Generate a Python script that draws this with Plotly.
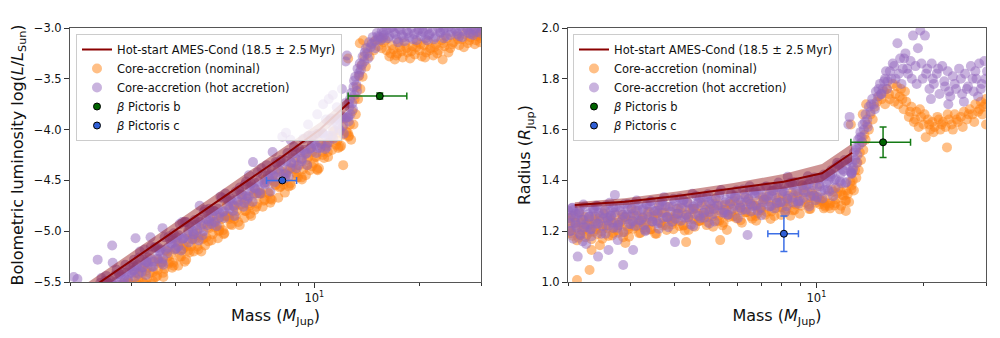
import math
import plotly.graph_objects as go

# ---------------- Hot-start AMES-Cond track (18.5 +/- 2.5 Myr) ----------------
hs_mass = [2.09, 2.89, 4.05, 5.85, 8.08, 10.37, 12.6]
hs_logL = [-5.66, -5.33, -4.98, -4.60, -4.27, -4.00, -3.73]
hs_logL_lo = [-5.74, -5.41, -5.06, -4.68, -4.35, -4.07, -3.79]
hs_logL_hi = [-5.58, -5.25, -4.90, -4.52, -4.19, -3.93, -3.67]
hs_radius = [1.303, 1.316, 1.339, 1.369, 1.395, 1.428, 1.509]
hs_radius_lo = [1.292, 1.303, 1.323, 1.349, 1.367, 1.395, 1.475]
hs_radius_hi = [1.314, 1.330, 1.356, 1.390, 1.425, 1.465, 1.545]

# ---------------- Core-accretion, hot accretion ----------------
hot_band_mass = [
    2.00, 2.03, 2.06, 2.09, 2.12, 2.15, 2.18, 2.21, 2.24, 2.28,
    2.31, 2.35, 2.38, 2.42, 2.46, 2.50, 2.54, 2.58, 2.62, 2.66,
    2.70, 2.75, 2.79, 2.84, 2.88, 2.93, 2.97, 3.02, 3.07, 3.12,
    3.17, 3.22, 3.27, 3.32, 3.38, 3.43, 3.49, 3.55, 3.61, 3.67,
    3.73, 3.79, 3.86, 3.92, 3.99, 4.05, 4.12, 4.19, 4.26, 4.33,
    4.40, 4.48, 4.55, 4.63, 4.71, 4.79, 4.87, 4.95, 5.04, 5.12,
    5.21, 5.30, 5.39, 5.48, 5.57, 5.67, 5.76, 5.86, 5.96, 6.06,
    6.17, 6.27, 6.38, 6.49, 6.60, 6.71, 6.83, 6.94, 7.06, 7.18,
    7.31, 7.43, 7.56, 7.69, 7.82, 7.96, 8.10, 8.24, 8.38, 8.53,
    8.68, 8.83, 8.98, 9.14, 9.30, 9.46, 9.62, 9.79, 9.96, 10.13,
    10.31, 10.49, 10.67, 10.86, 11.05, 11.24, 11.44, 11.64, 11.84, 12.05,
    12.26, 12.47]
hot_band_logL = [
    -5.69, -5.81, -5.73, -5.86, -5.68, -5.78, -5.71, -5.83, -5.59, -5.74,
    -5.61, -5.65, -5.72, -5.59, -5.46, -5.62, -5.44, -5.56, -5.49, -5.61,
    -5.43, -5.53, -5.45, -5.57, -5.33, -5.48, -5.35, -5.39, -5.45, -5.33,
    -5.20, -5.36, -5.18, -5.30, -5.23, -5.35, -5.16, -5.27, -5.19, -5.31,
    -5.06, -5.22, -5.08, -5.12, -5.18, -5.06, -4.93, -5.08, -4.91, -5.03,
    -4.95, -5.08, -4.89, -4.99, -4.91, -5.04, -4.79, -4.94, -4.80, -4.85,
    -4.91, -4.78, -4.66, -4.81, -4.63, -4.75, -4.68, -4.80, -4.61, -4.71,
    -4.64, -4.76, -4.51, -4.66, -4.53, -4.57, -4.63, -4.51, -4.38, -4.53,
    -4.35, -4.48, -4.40, -4.52, -4.33, -4.43, -4.36, -4.48, -4.23, -4.38,
    -4.24, -4.28, -4.35, -4.22, -4.09, -4.24, -4.06, -4.18, -4.10, -4.23,
    -4.04, -4.14, -4.05, -4.17, -3.91, -4.06, -3.91, -3.95, -4.01, -3.87,
    -3.74, -3.88]
hot_band_radius = [
    1.281, 1.232, 1.292, 1.253, 1.214, 1.274, 1.245, 1.305, 1.226, 1.267,
    1.207, 1.288, 1.238, 1.299, 1.260, 1.220, 1.281, 1.252, 1.312, 1.233,
    1.273, 1.214, 1.295, 1.245, 1.306, 1.267, 1.228, 1.289, 1.260, 1.321,
    1.242, 1.283, 1.224, 1.305, 1.257, 1.318, 1.279, 1.240, 1.301, 1.272,
    1.334, 1.255, 1.296, 1.237, 1.318, 1.269, 1.330, 1.292, 1.253, 1.314,
    1.286, 1.347, 1.268, 1.310, 1.251, 1.333, 1.284, 1.345, 1.307, 1.268,
    1.329, 1.301, 1.362, 1.283, 1.325, 1.266, 1.347, 1.299, 1.360, 1.322,
    1.283, 1.344, 1.316, 1.377, 1.299, 1.340, 1.281, 1.362, 1.314, 1.375,
    1.337, 1.298, 1.359, 1.331, 1.392, 1.314, 1.355, 1.298, 1.380, 1.332,
    1.394, 1.357, 1.319, 1.381, 1.353, 1.416, 1.338, 1.380, 1.322, 1.405,
    1.357, 1.423, 1.390, 1.357, 1.424, 1.401, 1.469, 1.396, 1.443, 1.390,
    1.477, 1.435]

hot_band2_mass = [
    2.01, 2.04, 2.07, 2.10, 2.14, 2.17, 2.20, 2.23, 2.26, 2.30,
    2.33, 2.37, 2.40, 2.44, 2.48, 2.52, 2.56, 2.60, 2.64, 2.68,
    2.72, 2.77, 2.81, 2.86, 2.90, 2.95, 3.00, 3.05, 3.10, 3.15,
    3.20, 3.25, 3.30, 3.35, 3.41, 3.46, 3.52, 3.58, 3.64, 3.70,
    3.76, 3.83, 3.89, 3.96, 4.02, 4.09, 4.16, 4.23, 4.30, 4.37,
    4.44, 4.52, 4.59, 4.67, 4.75, 4.83, 4.91, 5.00, 5.08, 5.17,
    5.26, 5.35, 5.44, 5.53, 5.62, 5.72, 5.81, 5.91, 6.01, 6.12,
    6.22, 6.33, 6.44, 6.55, 6.66, 6.77, 6.88, 7.00, 7.12, 7.24,
    7.37, 7.49, 7.62, 7.75, 7.89, 8.03, 8.17, 8.31, 8.45, 8.60,
    8.75, 8.90, 9.06, 9.22, 9.38, 9.54, 9.71, 9.87, 10.04, 10.22,
    10.40, 10.58, 10.76, 10.95, 11.14, 11.34, 11.54, 11.74, 11.94, 12.15,
    12.36, 12.56]
hot_band2_logL = [
    -5.80, -5.71, -5.85, -5.73, -5.88, -5.75, -5.60, -5.80, -5.62, -5.72,
    -5.64, -5.79, -5.64, -5.51, -5.58, -5.49, -5.63, -5.51, -5.66, -5.53,
    -5.38, -5.58, -5.40, -5.50, -5.41, -5.57, -5.41, -5.28, -5.35, -5.26,
    -5.40, -5.28, -5.43, -5.31, -5.15, -5.35, -5.16, -5.27, -5.18, -5.33,
    -5.18, -5.05, -5.12, -5.02, -5.17, -5.04, -5.19, -5.07, -4.91, -5.11,
    -4.93, -5.03, -4.94, -5.09, -4.94, -4.81, -4.88, -4.78, -4.93, -4.80,
    -4.95, -4.82, -4.67, -4.87, -4.68, -4.78, -4.70, -4.85, -4.69, -4.57,
    -4.64, -4.54, -4.68, -4.56, -4.71, -4.58, -4.42, -4.63, -4.44, -4.54,
    -4.45, -4.61, -4.45, -4.32, -4.39, -4.30, -4.44, -4.31, -4.46, -4.33,
    -4.17, -4.38, -4.19, -4.29, -4.20, -4.35, -4.19, -4.06, -4.14, -4.04,
    -4.18, -4.04, -4.19, -4.06, -3.89, -4.09, -3.89, -3.99, -3.89, -4.04,
    -3.88, -3.74]
hot_band2_radius = [
    1.252, 1.202, 1.283, 1.223, 1.269, 1.184, 1.245, 1.296, 1.216, 1.257,
    1.208, 1.288, 1.229, 1.274, 1.190, 1.251, 1.301, 1.222, 1.262, 1.213,
    1.294, 1.234, 1.280, 1.196, 1.256, 1.307, 1.228, 1.270, 1.221, 1.302,
    1.243, 1.289, 1.205, 1.266, 1.317, 1.238, 1.280, 1.231, 1.312, 1.253,
    1.299, 1.216, 1.277, 1.328, 1.249, 1.290, 1.241, 1.323, 1.264, 1.310,
    1.226, 1.288, 1.339, 1.260, 1.302, 1.253, 1.334, 1.276, 1.322, 1.238,
    1.300, 1.351, 1.273, 1.314, 1.265, 1.347, 1.288, 1.335, 1.251, 1.313,
    1.364, 1.285, 1.327, 1.278, 1.359, 1.301, 1.347, 1.263, 1.325, 1.376,
    1.297, 1.339, 1.290, 1.372, 1.313, 1.360, 1.276, 1.339, 1.391, 1.313,
    1.355, 1.308, 1.390, 1.332, 1.380, 1.297, 1.359, 1.411, 1.334, 1.376,
    1.329, 1.416, 1.363, 1.415, 1.338, 1.405, 1.462, 1.389, 1.437, 1.394,
    1.481, 1.428]

hot_band3_mass = [
    2.04, 2.10, 2.16, 2.22, 2.29, 2.36, 2.43, 2.51, 2.59, 2.68,
    2.77, 2.86, 2.95, 3.04, 3.14, 3.24, 3.34, 3.45, 3.57, 3.69,
    3.81, 3.94, 4.08, 4.22, 4.36, 4.51, 4.66, 4.82, 4.98, 5.15,
    5.33, 5.51, 5.71, 5.90, 6.10, 6.31, 6.53, 6.75, 6.98, 7.22,
    7.48, 7.74, 8.01, 8.29, 8.58, 8.88, 9.20, 9.52, 9.85, 10.19,
    10.55, 10.93, 11.31, 11.71, 12.12, 12.54]
hot_band3_logL = [
    -5.77, -5.81, -5.67, -5.79, -5.68, -5.60, -5.68, -5.61, -5.52, -5.56,
    -5.42, -5.53, -5.42, -5.34, -5.42, -5.35, -5.26, -5.30, -5.16, -5.27,
    -5.16, -5.07, -5.15, -5.07, -4.99, -5.03, -4.88, -5.00, -4.88, -4.80,
    -4.87, -4.80, -4.71, -4.75, -4.60, -4.72, -4.60, -4.52, -4.60, -4.52,
    -4.44, -4.47, -4.32, -4.44, -4.32, -4.23, -4.31, -4.23, -4.14, -4.18,
    -4.03, -4.13, -4.00, -3.90, -3.96, -3.87]
hot_band3_radius = [
    1.262, 1.233, 1.284, 1.215, 1.257, 1.278, 1.229, 1.270, 1.242, 1.293,
    1.224, 1.265, 1.287, 1.239, 1.281, 1.253, 1.305, 1.238, 1.280, 1.302,
    1.255, 1.297, 1.269, 1.322, 1.254, 1.297, 1.320, 1.273, 1.315, 1.288,
    1.341, 1.273, 1.316, 1.339, 1.292, 1.334, 1.307, 1.360, 1.292, 1.335,
    1.358, 1.311, 1.354, 1.328, 1.382, 1.317, 1.361, 1.386, 1.340, 1.385,
    1.363, 1.427, 1.371, 1.426, 1.460, 1.425]

# bright models lying above the main sequence
hot_bright_mass = [2.05, 2.10, 2.40, 2.64, 2.65, 3.08, 3.40, 3.68, 4.19, 4.70,
                   6.50, 6.68, 7.60, 8.10, 8.30, 8.55, 9.60, 10.2, 10.6, 11.0,
                   11.3, 10.8, 11.6, 12.0, 2.71]
hot_bright_logL = [-5.45, -5.47, -5.28, -5.14, -5.31, -5.07, -5.06, -4.97, -4.91, -4.75,
                   -4.45, -4.32, -4.22, -4.07, -4.03, -4.10, -3.95, -3.85, -3.75, -3.70,
                   -3.66, -3.90, -3.78, -3.60, -5.50]
hot_bright_radius = [1.29, 1.27, 1.30, 1.28, 1.26, 1.31, 1.30, 1.32, 1.31, 1.33,
                     1.36, 1.35, 1.37, 1.38, 1.414, 1.39, 1.40, 1.41, 1.42, 1.44,
                     1.45, 1.40, 1.46, 1.48, 1.343]

# compact models below the main sequence
hot_small_mass = [2.02, 2.07, 2.13, 2.16, 2.20, 2.25, 2.33, 2.43, 2.55, 2.60,
                  2.76, 2.86, 3.05, 3.30, 3.60, 4.00, 4.50, 5.00, 6.40]
hot_small_logL = [-5.75, -5.70, -5.72, -5.65, -5.66, -5.60, -5.62, -5.58, -5.50, -5.52,
                  -5.42, -5.45, -5.38, -5.30, -5.20, -5.10, -5.00, -4.90, -4.65]
hot_small_radius = [1.20, 1.17, 1.10, 1.19, 1.16, 1.15, 1.18, 1.10, 1.19, 1.126,
                    1.165, 1.067, 1.126, 1.20, 1.21, 1.157, 1.22, 1.23, 1.185]

# deuterium-burning transition
hot_rise_mass = [12.55, 12.60, 12.70, 12.75, 12.85, 12.95, 13.05, 13.10, 13.20, 13.30,
                 13.40, 13.50, 13.60, 13.75, 13.90, 14.05, 14.20, 14.35, 14.50, 14.70,
                 14.90, 15.10, 15.35, 15.60, 15.85, 12.40, 12.30,
                 12.65, 12.90, 13.00, 13.25, 13.45, 13.70, 13.95, 14.25, 14.60, 14.95,
                 15.25, 15.70]
hot_rise_logL = [-3.92, -3.78, -3.85, -3.64, -3.74, -3.58, -3.66, -3.48, -3.56, -3.40,
                 -3.47, -3.35, -3.41, -3.28, -3.33, -3.20, -3.25, -3.14, -3.19, -3.09,
                 -3.13, -3.05, -3.09, -3.03, -3.07, -3.27, -3.33,
                 -3.70, -3.80, -3.52, -3.62, -3.44, -3.36, -3.24, -3.30, -3.16, -3.20,
                 -3.11, -3.10]
hot_rise_radius = [1.43, 1.47, 1.45, 1.51, 1.48, 1.53, 1.50, 1.56, 1.54, 1.59,
                   1.57, 1.62, 1.60, 1.66, 1.64, 1.69, 1.67, 1.72, 1.70, 1.75,
                   1.73, 1.78, 1.76, 1.80, 1.79, 1.65, 1.62,
                   1.44, 1.52, 1.47, 1.57, 1.55, 1.63, 1.61, 1.70, 1.68, 1.76,
                   1.74, 1.83]

# brown-dwarf regime
hot_bd_mass = [16.1, 16.4, 16.7, 16.9, 17.2, 17.5, 17.8, 18.1, 18.4, 18.7,
               19.0, 19.3, 19.6, 19.9, 20.2, 20.5, 20.8, 21.1, 21.4, 21.8,
               22.2, 22.6, 23.0, 23.4, 23.8, 24.2, 24.7, 25.2, 25.7, 26.2,
               26.7, 27.2, 27.7, 28.2, 28.7, 29.2, 29.7, 30.2, 21.0, 23.5,
               26.0, 28.5,
               15.2, 15.5, 15.8, 16.25, 16.55, 17.05, 17.35, 17.65, 18.0, 18.55,
               19.15, 19.75, 20.35, 21.25, 22.0, 22.9, 23.6, 24.5, 25.5, 26.5,
               27.5, 28.0, 29.0, 29.9]
hot_bd_logL = [-3.02, -3.08, -2.99, -3.05, -3.11, -3.01, -3.07, -3.13, -3.03, -3.09,
               -3.00, -3.06, -3.12, -3.02, -3.08, -3.04, -3.10, -3.01, -3.06, -3.03,
               -3.09, -3.00, -3.05, -3.02, -3.08, -2.99, -3.04, -3.01, -3.06, -2.98,
               -3.03, -3.00, -3.05, -2.99, -3.02, -3.04, -2.98, -3.01, -3.12, -3.10,
               -3.08, -3.07,
               -3.08, -3.12, -3.04, -3.10, -3.00, -3.06, -3.14, -3.02, -3.09, -3.05,
               -3.11, -3.04, -3.01, -3.07, -3.11, -3.04, -3.00, -3.07, -3.03, -3.09,
               -3.02, -3.06, -3.00, -3.05]
hot_bd_radius = [1.83, 1.86, 1.80, 1.94, 1.88, 1.84, 1.90, 1.82, 1.87, 1.97,
                 1.85, 1.92, 1.99, 1.80, 1.97, 1.84, 1.76, 1.86, 1.78, 1.82,
                 1.74, 1.85, 1.77, 1.83, 1.73, 1.81, 1.76, 1.84, 1.74, 1.82,
                 1.77, 1.85, 1.75, 1.80, 1.86, 1.78, 1.87, 1.83, 1.72, 1.70,
                 1.71, 1.73,
                 1.74, 1.79, 1.76, 1.80, 1.85, 1.82, 1.78, 1.88, 1.84, 1.80,
                 1.78, 1.86, 1.82, 1.80, 1.84, 1.79, 1.75, 1.78, 1.80, 1.76,
                 1.80, 1.83, 1.76, 1.80]

# ---------------- Core-accretion, nominal ----------------
nom_band_mass = list(hot_band2_mass)
nom_band_logL = [
    -5.84, -5.99, -5.87, -6.02, -5.75, -5.88, -5.94, -5.76, -5.81, -5.94,
    -5.68, -5.81, -5.73, -5.84, -5.66, -5.61, -5.75, -5.64, -5.78, -5.56,
    -5.65, -5.70, -5.53, -5.57, -5.70, -5.50, -5.57, -5.48, -5.59, -5.42,
    -5.36, -5.51, -5.39, -5.54, -5.27, -5.40, -5.45, -5.28, -5.32, -5.45,
    -5.19, -5.32, -5.23, -5.34, -5.17, -5.11, -5.25, -5.14, -5.28, -5.01,
    -5.15, -5.20, -5.02, -5.06, -5.20, -4.93, -5.06, -4.97, -5.09, -4.91,
    -4.85, -4.99, -4.88, -5.02, -4.75, -4.88, -4.94, -4.76, -4.80, -4.94,
    -4.67, -4.80, -4.71, -4.83, -4.65, -4.59, -4.73, -4.62, -4.76, -4.49,
    -4.62, -4.68, -4.50, -4.54, -4.67, -4.41, -4.54, -4.45, -4.56, -4.38,
    -4.32, -4.47, -4.35, -4.49, -4.22, -4.35, -4.40, -4.22, -4.27, -4.40,
    -4.13, -4.25, -4.16, -4.27, -4.08, -4.02, -4.15, -4.03, -4.16, -3.89,
    -4.02, -4.06]
nom_band_radius = [
    1.240, 1.192, 1.262, 1.213, 1.174, 1.234, 1.205, 1.256, 1.186, 1.227,
    1.168, 1.248, 1.208, 1.249, 1.200, 1.270, 1.221, 1.181, 1.242, 1.213,
    1.264, 1.194, 1.235, 1.176, 1.256, 1.217, 1.258, 1.210, 1.281, 1.232,
    1.193, 1.254, 1.225, 1.276, 1.207, 1.248, 1.190, 1.271, 1.232, 1.273,
    1.224, 1.296, 1.247, 1.208, 1.269, 1.240, 1.291, 1.223, 1.264, 1.205,
    1.286, 1.248, 1.289, 1.240, 1.312, 1.263, 1.224, 1.286, 1.257, 1.308,
    1.240, 1.281, 1.223, 1.304, 1.265, 1.307, 1.258, 1.330, 1.281, 1.243,
    1.304, 1.275, 1.327, 1.258, 1.299, 1.241, 1.322, 1.283, 1.325, 1.276,
    1.347, 1.299, 1.260, 1.322, 1.293, 1.345, 1.276, 1.319, 1.261, 1.343,
    1.305, 1.348, 1.300, 1.372, 1.325, 1.287, 1.349, 1.321, 1.374, 1.306,
    1.320, 1.296, 1.340, 1.310, 1.355, 1.325, 1.370, 1.300, 1.340, 1.360,
    1.315, 1.380]

nom_band2_mass = list(hot_band_mass)
nom_band2_logL = [
    -5.93, -6.00, -5.82, -5.93, -6.00, -5.82, -5.74, -5.89, -5.83, -5.94,
    -5.73, -5.86, -5.73, -5.73, -5.80, -5.63, -5.73, -5.79, -5.62, -5.53,
    -5.69, -5.62, -5.73, -5.51, -5.65, -5.51, -5.52, -5.59, -5.41, -5.52,
    -5.58, -5.41, -5.32, -5.47, -5.41, -5.52, -5.30, -5.44, -5.30, -5.30,
    -5.37, -5.20, -5.30, -5.36, -5.18, -5.10, -5.25, -5.18, -5.30, -5.08,
    -5.21, -5.08, -5.08, -5.15, -4.97, -5.08, -5.14, -4.96, -4.87, -5.03,
    -4.96, -5.07, -4.86, -4.99, -4.85, -4.85, -4.93, -4.75, -4.85, -4.91,
    -4.74, -4.65, -4.80, -4.73, -4.85, -4.63, -4.76, -4.63, -4.63, -4.70,
    -4.52, -4.63, -4.69, -4.51, -4.42, -4.57, -4.51, -4.62, -4.40, -4.53,
    -4.39, -4.39, -4.47, -4.29, -4.39, -4.45, -4.27, -4.18, -4.33, -4.27,
    -4.38, -4.16, -4.28, -4.14, -4.13, -4.20, -4.01, -4.11, -4.17, -3.98,
    -3.89, -4.03]
nom_band2_radius = [
    1.211, 1.252, 1.182, 1.233, 1.164, 1.274, 1.205, 1.245, 1.176, 1.227,
    1.197, 1.218, 1.258, 1.189, 1.240, 1.170, 1.281, 1.212, 1.252, 1.183,
    1.233, 1.204, 1.225, 1.265, 1.196, 1.247, 1.178, 1.289, 1.220, 1.261,
    1.192, 1.243, 1.214, 1.235, 1.277, 1.208, 1.259, 1.190, 1.301, 1.232,
    1.274, 1.205, 1.256, 1.227, 1.248, 1.289, 1.220, 1.272, 1.203, 1.314,
    1.246, 1.287, 1.218, 1.270, 1.241, 1.263, 1.304, 1.235, 1.287, 1.218,
    1.329, 1.261, 1.302, 1.233, 1.285, 1.256, 1.277, 1.319, 1.250, 1.302,
    1.233, 1.344, 1.276, 1.317, 1.249, 1.300, 1.271, 1.292, 1.334, 1.265,
    1.317, 1.248, 1.359, 1.291, 1.332, 1.264, 1.315, 1.288, 1.310, 1.352,
    1.284, 1.337, 1.269, 1.381, 1.313, 1.356, 1.288, 1.340, 1.312, 1.335,
    1.317, 1.290, 1.310, 1.300, 1.364, 1.301, 1.349, 1.286, 1.343, 1.320,
    1.347, 1.395]

nom_band3_mass = list(hot_band3_mass)
nom_band3_logL = [
    -5.95, -5.99, -5.83, -5.90, -5.93, -5.77, -5.79, -5.66, -5.78, -5.67,
    -5.71, -5.54, -5.61, -5.64, -5.48, -5.50, -5.36, -5.49, -5.38, -5.41,
    -5.25, -5.31, -5.34, -5.17, -5.19, -5.06, -5.18, -5.07, -5.10, -4.94,
    -5.00, -5.03, -4.86, -4.88, -4.74, -4.87, -4.75, -4.79, -4.63, -4.69,
    -4.72, -4.55, -4.56, -4.43, -4.55, -4.43, -4.47, -4.30, -4.36, -4.39,
    -4.22, -4.22, -4.07, -4.18, -4.05, -4.07]
nom_band3_radius = [
    1.202, 1.233, 1.184, 1.215, 1.247, 1.198, 1.229, 1.210, 1.242, 1.193,
    1.224, 1.255, 1.207, 1.239, 1.221, 1.253, 1.205, 1.238, 1.270, 1.222,
    1.255, 1.237, 1.269, 1.222, 1.254, 1.287, 1.240, 1.273, 1.255, 1.288,
    1.241, 1.273, 1.306, 1.259, 1.292, 1.274, 1.307, 1.260, 1.292, 1.325,
    1.278, 1.311, 1.294, 1.328, 1.282, 1.317, 1.351, 1.306, 1.340, 1.325,
    1.303, 1.290, 1.311, 1.356, 1.320, 1.365]

nom_small_mass = [2.12, 2.30, 2.33, 2.46, 2.90, 4.30, 5.36, 5.60, 12.10]
nom_small_logL = [-5.90, -5.85, -5.80, -5.75, -5.60, -5.15, -4.95, -4.85, -4.35]
nom_small_radius = [1.008, 1.047, 1.126, 1.145, 1.154, 1.157, 1.165, 1.205, 1.28]

nom_rise_mass = [12.65, 12.75, 12.85, 12.95, 13.05, 13.15, 13.25, 13.35, 13.45, 13.55,
                 13.65, 13.75, 13.90, 14.05, 14.20, 14.40, 14.60, 14.80, 15.00, 15.25,
                 15.50, 12.50, 13.50, 13.80]
nom_rise_logL = [-3.95, -4.10, -3.82, -3.95, -3.70, -3.85, -3.58, -3.70, -3.47, -3.60,
                 -3.37, -3.48, -3.28, -3.38, -3.20, -3.28, -3.15, -3.22, -3.12, -3.18,
                 -3.10, -3.30, -3.15, -3.12]
nom_rise_radius = [1.40, 1.36, 1.44, 1.41, 1.47, 1.44, 1.51, 1.48, 1.55, 1.52,
                   1.58, 1.56, 1.62, 1.60, 1.66, 1.64, 1.69, 1.71, 1.73, 1.72,
                   1.75, 1.62, 1.66, 1.70]

nom_bd_mass = [15.8, 16.1, 16.4, 16.7, 17.0, 17.3, 17.6, 17.9, 18.2, 18.5,
               18.8, 19.1, 19.4, 19.7, 20.0, 20.3, 20.6, 20.9, 21.2, 21.5,
               21.9, 22.3, 22.7, 23.1, 23.3, 23.6, 24.0, 24.5, 25.0, 25.5,
               26.0, 26.5, 27.0, 27.5, 28.0, 28.5, 29.0, 29.5, 30.0, 30.0,
               15.6, 16.0, 16.55, 16.85, 17.15, 17.45, 17.75, 18.35, 18.95, 19.55,
               20.15, 20.75, 21.35, 22.1, 22.5, 23.4, 24.2, 24.8, 25.8, 26.8,
               27.8, 28.8, 29.3, 29.8]
nom_bd_logL = [-3.14, -3.22, -3.28, -3.17, -3.31, -3.25, -3.19, -3.29, -3.15, -3.24,
               -3.30, -3.18, -3.26, -3.14, -3.22, -3.28, -3.17, -3.24, -3.13, -3.20,
               -3.27, -3.16, -3.22, -3.12, -3.31, -3.18, -3.10, -3.20, -3.14, -3.08,
               -3.17, -3.11, -3.06, -3.15, -3.09, -3.05, -3.12, -3.07, -3.04, -3.10,
               -3.20, -3.12, -3.25, -3.21, -3.27, -3.14, -3.23, -3.20, -3.23, -3.19,
               -3.16, -3.29, -3.22, -3.19, -3.25, -3.15, -3.24, -3.16, -3.11, -3.19,
               -3.12, -3.16, -3.08, -3.14]
nom_bd_radius = [1.76, 1.72, 1.78, 1.74, 1.70, 1.76, 1.68, 1.71, 1.65, 1.69,
                 1.63, 1.67, 1.61, 1.65, 1.62, 1.57, 1.64, 1.60, 1.63, 1.61,
                 1.65, 1.60, 1.63, 1.61, 1.53, 1.64, 1.62, 1.66, 1.63, 1.65,
                 1.67, 1.64, 1.68, 1.66, 1.70, 1.67, 1.71, 1.69, 1.72, 1.62,
                 1.70, 1.74, 1.71, 1.77, 1.73, 1.72, 1.75, 1.67, 1.64, 1.68,
                 1.66, 1.62, 1.59, 1.64, 1.62, 1.66, 1.60, 1.64, 1.61, 1.66,
                 1.63, 1.68, 1.66, 1.70]

# ---------------- beta Pictoris b and c ----------------
b_mass, b_mass_lo, b_mass_hi = 15.4, 2.9, 3.0
b_logL, b_logL_err = -3.67, 0.03
b_radius, b_radius_err = 1.55, 0.06
c_mass, c_mass_lo, c_mass_hi = 8.1, 0.8, 0.8
c_logL, c_logL_err = -4.50, 0.01
c_radius, c_radius_err = 1.19, 0.07

# axis settings
mass_range = [2, 30]
logL_ticks = [-5.5, -5.0, -4.5, -4.0, -3.5, -3.0]
radius_ticks = [1.0, 1.2, 1.4, 1.6, 1.8, 2.0]

ORANGE = "#ff7f0e"
PURPLE = "#9467bd"
DARKRED = "#8b0000"

hot_mass = (hot_band_mass + hot_band2_mass + hot_band3_mass + hot_bright_mass
            + hot_small_mass + hot_rise_mass + hot_bd_mass)
hot_logL = (hot_band_logL + hot_band2_logL + hot_band3_logL + hot_bright_logL
            + hot_small_logL + hot_rise_logL + hot_bd_logL)
hot_radius = (hot_band_radius + hot_band2_radius + hot_band3_radius + hot_bright_radius
              + hot_small_radius + hot_rise_radius + hot_bd_radius)
nom_mass = (nom_band_mass + nom_band2_mass + nom_band3_mass + nom_small_mass
            + nom_rise_mass + nom_bd_mass)
nom_logL = (nom_band_logL + nom_band2_logL + nom_band3_logL + nom_small_logL
            + nom_rise_logL + nom_bd_logL)
nom_radius = (nom_band_radius + nom_band2_radius + nom_band3_radius + nom_small_radius
              + nom_rise_radius + nom_bd_radius)

fig = go.Figure()


def add_panel(xa, ya, legend, nom_y, hot_y, line_y, lo_y, hi_y, b_y, b_err, c_y, c_err):
    fig.add_trace(go.Scatter(
        x=nom_mass, y=nom_y, mode="markers", xaxis=xa, yaxis=ya, legend=legend,
        name="Core-accretion (nominal)", legendrank=2,
        marker=dict(color=ORANGE, opacity=0.5, size=10, line=dict(width=0))))
    fig.add_trace(go.Scatter(
        x=hot_mass, y=hot_y, mode="markers", xaxis=xa, yaxis=ya, legend=legend,
        name="Core-accretion (hot accretion)", legendrank=3,
        marker=dict(color=PURPLE, opacity=0.5, size=10, line=dict(width=0))))
    fig.add_trace(go.Scatter(
        x=hs_mass + hs_mass[::-1], y=hi_y + lo_y[::-1], fill="toself",
        fillcolor="rgba(139,0,0,0.42)", line=dict(width=0), mode="lines",
        xaxis=xa, yaxis=ya, showlegend=False, hoverinfo="skip"))
    fig.add_trace(go.Scatter(
        x=hs_mass, y=line_y, mode="lines", xaxis=xa, yaxis=ya, legend=legend,
        name="Hot-start AMES-Cond (18.5 ± 2.5\u2009Myr)", legendrank=1,
        line=dict(color=DARKRED, width=2)))
    for (m, mlo, mhi, y, yerr, face, ecol, label, rank) in [
        (b_mass, b_mass_lo, b_mass_hi, b_y, b_err, "#006400", "#147a14", "<i>β</i> Pictoris b", 4),
        (c_mass, c_mass_lo, c_mass_hi, c_y, c_err, "#2f5fd6", "#3c6fe6", "<i>β</i> Pictoris c", 5),
    ]:
        fig.add_trace(go.Scatter(
            x=[m], y=[y], mode="markers", xaxis=xa, yaxis=ya, legend=legend,
            name=label, legendrank=rank,
            marker=dict(color=face, size=7, line=dict(color="black", width=1)),
            error_x=dict(type="data", symmetric=False, array=[mhi], arrayminus=[mlo],
                         color=ecol, thickness=1.5, width=3.5),
            error_y=dict(type="data", array=[yerr], color=ecol, thickness=1.5, width=3.5)))


add_panel("x", "y", "legend", nom_logL, hot_logL, hs_logL, hs_logL_lo, hs_logL_hi,
          b_logL, b_logL_err, c_logL, c_logL_err)
add_panel("x2", "y2", "legend2", nom_radius, hot_radius, hs_radius, hs_radius_lo, hs_radius_hi,
          b_radius, b_radius_err, c_radius, c_radius_err)

H = 338.0
y_dom = [1 - 282 / H, 1 - 28 / H]
frame = dict(showline=True, linecolor="#555", linewidth=1, mirror=True,
             showgrid=False, zeroline=False, ticks="outside", ticklen=5,
             tickwidth=1, tickcolor="#333", automargin=False,
             tickfont=dict(size=11.5, color="#111"))
xcommon = dict(type="log", range=[math.log10(mass_range[0]), math.log10(mass_range[1])],
               tickvals=[10], ticktext=["10<sup>1</sup>"],
               minor=dict(tickvals=[2, 3, 4, 5, 6, 7, 8, 9, 20, 30], ticks="outside",
                          ticklen=3, tickwidth=1, tickcolor="#333"),
               title=dict(text="Mass (<i>M</i><sub>Jup</sub>)", font=dict(size=16), standoff=6),
               **frame)

fig.update_layout(
    width=1000, height=338, margin=dict(l=0, r=0, t=0, b=0),
    paper_bgcolor="white", plot_bgcolor="white",
    font=dict(family="DejaVu Sans", color="#111", size=11.5),
    xaxis=dict(domain=[0.070, 0.481], anchor="y", **xcommon),
    xaxis2=dict(domain=[0.568, 0.986], anchor="y2", **xcommon),
    yaxis=dict(domain=y_dom, anchor="x", range=[-5.5, -3.0], tickvals=logL_ticks,
               ticktext=[f"{v:.1f}".replace("-", "\u2212") for v in logL_ticks],
               title=dict(text="Bolometric luminosity log(<i>L</i>/<i>L</i><sub>Sun</sub>)",
                          font=dict(size=16), standoff=6),
               **frame),
    yaxis2=dict(domain=y_dom, anchor="x2", range=[1.0, 2.0], tickvals=radius_ticks,
                ticktext=[f"{v:.1f}" for v in radius_ticks],
                title=dict(text="Radius (<i>R</i><sub>Jup</sub>)", font=dict(size=16), standoff=6),
                **frame),
    legend=dict(x=0.076, y=1 - 34 / H, xanchor="left", yanchor="top",
                bgcolor="rgba(255,255,255,0.8)", bordercolor="#cccccc", borderwidth=1,
                font=dict(size=11.5), tracegroupgap=0),
    legend2=dict(x=0.573, y=1 - 34 / H, xanchor="left", yanchor="top",
                 bgcolor="rgba(255,255,255,0.8)", bordercolor="#cccccc", borderwidth=1,
                 font=dict(size=11.5), tracegroupgap=0),
)

fig.write_html("out.html")
